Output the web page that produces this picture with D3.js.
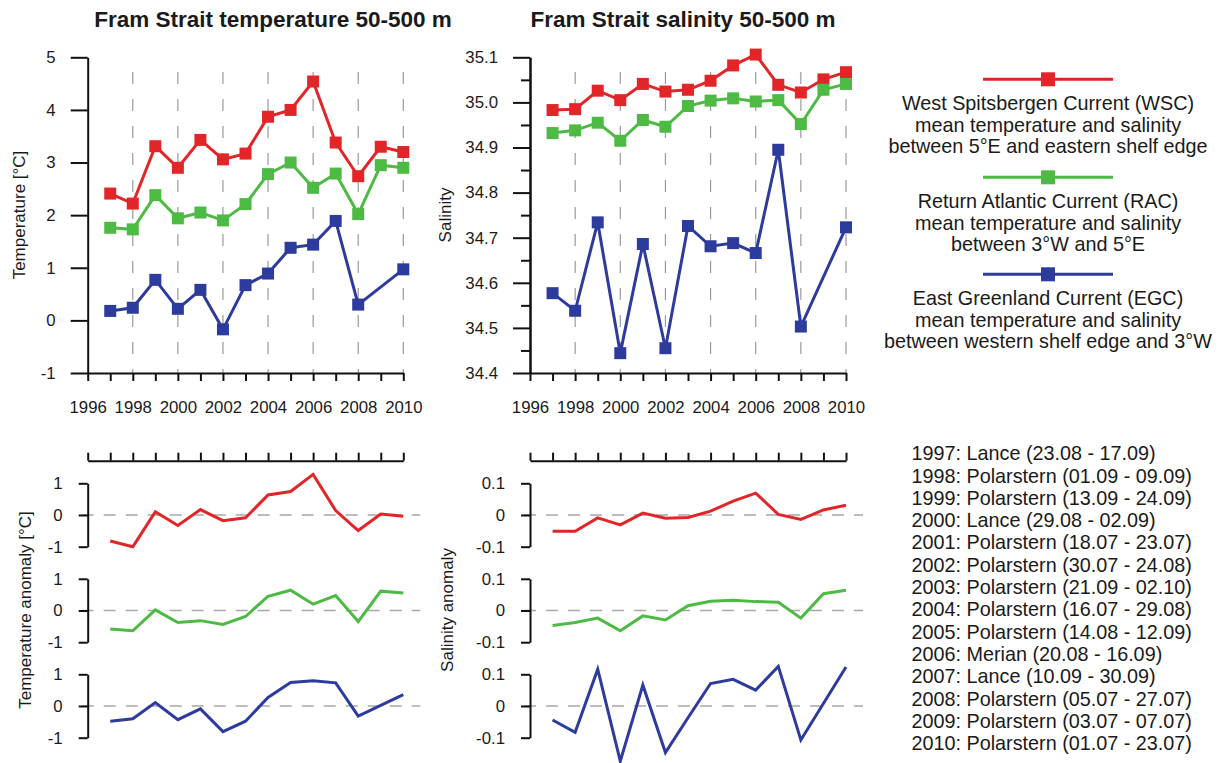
<!DOCTYPE html>
<html><head><meta charset="utf-8">
<script src="https://cdn.jsdelivr.net/npm/d3@7"></script>
<style>
body{margin:0;background:#fff}
svg text{font-family:"Liberation Sans",Arial,Helvetica,sans-serif;fill:#1a1a1a}
</style>
</head><body>
<svg id="chart" width="1219" height="763"></svg>
<script>
// ---------------- DATA ----------------
const years = [1997,1998,1999,2000,2001,2002,2003,2004,2005,2006,2007,2008,2009,2010];
const yearTicks = [1996,1997,1998,1999,2000,2001,2002,2003,2004,2005,2006,2007,2008,2009,2010];
const gridYears = [1998,2000,2002,2004,2006,2008,2010];
const tempTicks = [-1,0,1,2,3,4,5];
const salTicks = [34.4,34.5,34.6,34.7,34.8,34.9,35.0,35.1];
const salMinorTicks = [34.45,34.55,34.65,34.75,34.85,34.95,35.05];
const tempAnomTicks = [-1,0,1];
const salAnomTicks = [-0.1,0,0.1];

const tempWSC = [2.41,2.22,3.31,2.90,3.43,3.06,3.17,3.87,4.00,4.54,3.38,2.74,3.30,3.20];
const tempRAC = [1.76,1.73,2.38,1.94,2.05,1.90,2.21,2.78,3.00,2.52,2.79,2.02,2.95,2.90];
const tempEGC = [0.18,0.24,0.77,0.22,0.58,-0.17,0.67,0.89,1.38,1.44,1.89,0.30,null,0.97];

const salWSC = [34.983,34.985,35.026,35.005,35.041,35.024,35.028,35.048,35.082,35.106,35.039,35.022,35.051,35.067];
const salRAC = [34.932,34.938,34.955,34.915,34.961,34.946,34.992,35.004,35.009,35.002,35.005,34.952,35.028,35.041];
const salEGC = [34.577,34.538,34.734,34.444,34.686,34.455,34.726,34.681,34.688,34.666,34.895,34.503,null,34.723];

const tempAnomWSC = [-0.82,-1.00,0.10,-0.33,0.17,-0.18,-0.09,0.63,0.74,1.28,0.14,-0.49,0.03,-0.04];
const tempAnomRAC = [-0.58,-0.64,0.02,-0.38,-0.32,-0.44,-0.19,0.45,0.64,0.20,0.47,-0.35,0.61,0.55];
const tempAnomEGC = [-0.48,-0.40,0.11,-0.43,-0.09,-0.81,-0.48,0.27,0.74,0.80,0.73,-0.32,null,0.36];

const salAnomWSC = [-0.051,-0.051,-0.009,-0.031,0.006,-0.010,-0.008,0.012,0.044,0.069,0.002,-0.014,0.016,0.031];
const salAnomRAC = [-0.047,-0.038,-0.024,-0.064,-0.017,-0.030,0.015,0.029,0.032,0.028,0.026,-0.024,0.053,0.064];
const salAnomEGC = [-0.044,-0.083,0.116,-0.174,0.066,-0.147,-0.037,0.071,0.084,0.050,0.125,-0.107,null,0.123];

const seriesNames = ["WSC","RAC","EGC"];
const seriesColors = ["#e12528","#4dba43","#2d3b9d"];
const legendText = [
  ["West Spitsbergen Current (WSC)","mean temperature and salinity","between 5°E and eastern shelf edge"],
  ["Return Atlantic Current (RAC)","mean temperature and salinity","between 3°W and 5°E"],
  ["East Greenland Current (EGC)","mean temperature and salinity","between western shelf edge and 3°W"]
];
const cruises = [
  "1997: Lance (23.08 - 17.09)",
  "1998: Polarstern (01.09 - 09.09)",
  "1999: Polarstern (13.09 - 24.09)",
  "2000: Lance (29.08 - 02.09)",
  "2001: Polarstern (18.07 - 23.07)",
  "2002: Polarstern (30.07 - 24.08)",
  "2003: Polarstern (21.09 - 02.10)",
  "2004: Polarstern (16.07 - 29.08)",
  "2005: Polarstern (14.08 - 12.09)",
  "2006: Merian (20.08 - 16.09)",
  "2007: Lance (10.09 - 30.09)",
  "2008: Polarstern (05.07 - 27.07)",
  "2009: Polarstern (03.07 - 07.07)",
  "2010: Polarstern (01.07 - 23.07)"
];
const titles = ["Fram Strait temperature 50-500 m","Fram Strait salinity 50-500 m"];

// ---------------- DRAW ----------------
const svg = d3.select("#chart");
const tempSeries = [tempWSC,tempRAC,tempEGC];
const salSeries = [salWSC,salRAC,salEGC];
const tempAnom = [tempAnomWSC,tempAnomRAC,tempAnomEGC];
const salAnom = [salAnomWSC,salAnomRAC,salAnomEGC];

const TICK_FONT = 16.8;
function pts(arr){ return years.map((y,i)=>({x:y,v:arr[i]})).filter(d=>d.v!=null); }
function styleAxis(g, fs){
  g.select(".domain").attr("stroke","#111").attr("stroke-width",2);
  g.selectAll(".tick line").attr("stroke","#111").attr("stroke-width",2);
  g.selectAll("text").attr("font-size",fs);
}

function topPanel(x0,x1,domain,ticks,minor,fmt,data,ylabel,ylabelX,title,titleX){
  const x = d3.scaleLinear().domain([1996,2010]).range([x0,x1]);
  const y = d3.scaleLinear().domain(domain).range([373,57.3]);
  const g = svg.append("g");
  g.selectAll("line.grid").data(gridYears).join("line")
    .attr("x1",d=>x(d)).attr("x2",d=>x(d)).attr("y1",72).attr("y2",373)
    .attr("stroke","#9a9a9a").attr("stroke-width",1.2).attr("stroke-dasharray","12,15");
  if(minor){
    const gm = g.append("g").attr("transform",`translate(${x0},0)`)
      .call(d3.axisLeft(y).tickValues(minor).tickSize(9).tickFormat("").tickSizeOuter(0));
    styleAxis(gm,TICK_FONT);
  }
  const gy = g.append("g").attr("transform",`translate(${x0},0)`)
    .call(d3.axisLeft(y).tickValues(ticks).tickSize(17).tickPadding(15).tickSizeOuter(0).tickFormat(fmt));
  styleAxis(gy,TICK_FONT);
  const gx = g.append("g").attr("transform",`translate(0,373)`)
    .call(d3.axisBottom(x).tickValues(yearTicks).tickSize(8).tickPadding(20).tickSizeOuter(0)
      .tickFormat(d=>d%2===0?String(d):""));
  styleAxis(gx,TICK_FONT);
  const line = d3.line().x(d=>x(d.x)).y(d=>y(d.v));
  data.forEach((arr,i)=>{
    const p = pts(arr);
    g.append("path").datum(p).attr("d",line).attr("fill","none")
      .attr("stroke",seriesColors[i]).attr("stroke-width",3).attr("stroke-linejoin","miter");
    g.selectAll(null).data(p).join("rect")
      .attr("x",d=>x(d.x)-6).attr("y",d=>y(d.v)-6).attr("width",12).attr("height",12)
      .attr("fill",seriesColors[i]);
  });
  g.append("text").attr("transform",`translate(${ylabelX},215) rotate(-90)`)
    .attr("text-anchor","middle").attr("dy","0.35em").attr("font-size",17).text(ylabel);
  g.append("text").attr("x",titleX).attr("y",27).attr("text-anchor","middle")
    .attr("font-size",22.5).attr("font-weight","bold").text(title);
}

topPanel(87.7,403.3,[-1,5],tempTicks,null,d=>String(d),tempSeries,"Temperature [°C]",19,titles[0],273);
topPanel(530,846,[34.4,35.1],salTicks,salMinorTicks,d=>d.toFixed(1),salSeries,"Salinity",445,titles[1],683);

function bottomPanel(x0,x1,domain,ticks,fmt,data,ylabel,ylabelX){
  const x = d3.scaleLinear().domain([1996,2010]).range([x0,x1]);
  const g = svg.append("g");
  const gx = g.append("g").attr("transform","translate(0,460.7)")
    .call(d3.axisTop(x).tickValues(yearTicks).tickSize(8).tickFormat("").tickSizeOuter(0));
  styleAxis(gx,TICK_FONT);
  const tops = [483.3,578.8,674.3];
  data.forEach((arr,i)=>{
    const y = d3.scaleLinear().domain(domain).range([tops[i]+63.4,tops[i]]);
    g.append("line").attr("x1",x0-6).attr("x2",x1+17).attr("y1",y(0)).attr("y2",y(0))
      .attr("stroke","#a8a8a8").attr("stroke-width",1.3).attr("stroke-dasharray","12,10");
    const gy = g.append("g").attr("transform",`translate(${x0},0)`)
      .call(d3.axisLeft(y).tickValues(ticks).tickSize(9).tickPadding(16).tickSizeOuter(0).tickFormat(fmt));
    styleAxis(gy,TICK_FONT);
    const line = d3.line().x(d=>x(d.x)).y(d=>y(d.v));
    g.append("path").datum(pts(arr)).attr("d",line).attr("fill","none")
      .attr("stroke",seriesColors[i]).attr("stroke-width",3).attr("stroke-linejoin","miter");
  });
  g.append("text").attr("transform",`translate(${ylabelX},610) rotate(-90)`)
    .attr("text-anchor","middle").attr("dy","0.35em").attr("font-size",17).text(ylabel);
}
bottomPanel(87.7,403.3,[-1,1],tempAnomTicks,d=>String(d),tempAnom,"Temperature anomaly [°C]",25);
bottomPanel(530,846,[-0.1,0.1],salAnomTicks,d=>d===0?"0":d.toFixed(1),salAnom,"Salinity anomaly",447);

// legend
const lg = svg.append("g");
const legY = [79.3,177.3,274.3];
seriesNames.forEach((n,i)=>{
  lg.append("line").attr("x1",983).attr("x2",1113).attr("y1",legY[i]).attr("y2",legY[i])
    .attr("stroke",seriesColors[i]).attr("stroke-width",3);
  lg.append("rect").attr("x",1048-7).attr("y",legY[i]-7).attr("width",14).attr("height",14)
    .attr("fill",seriesColors[i]);
  legendText[i].forEach((t,j)=>{
    lg.append("text").attr("x",1048).attr("y",legY[i]+23.7+j*21.6).attr("dy","0.35em")
      .attr("text-anchor","middle").attr("font-size",19.8).text(t);
  });
});

// cruise list
const cg = svg.append("g");
cg.selectAll("text").data(cruises).join("text")
  .attr("x",911.5).attr("y",(d,i)=>453.3+i*22.3).attr("dy","0.35em")
  .attr("font-size",19.8).text(d=>d);
</script>
</body></html>
